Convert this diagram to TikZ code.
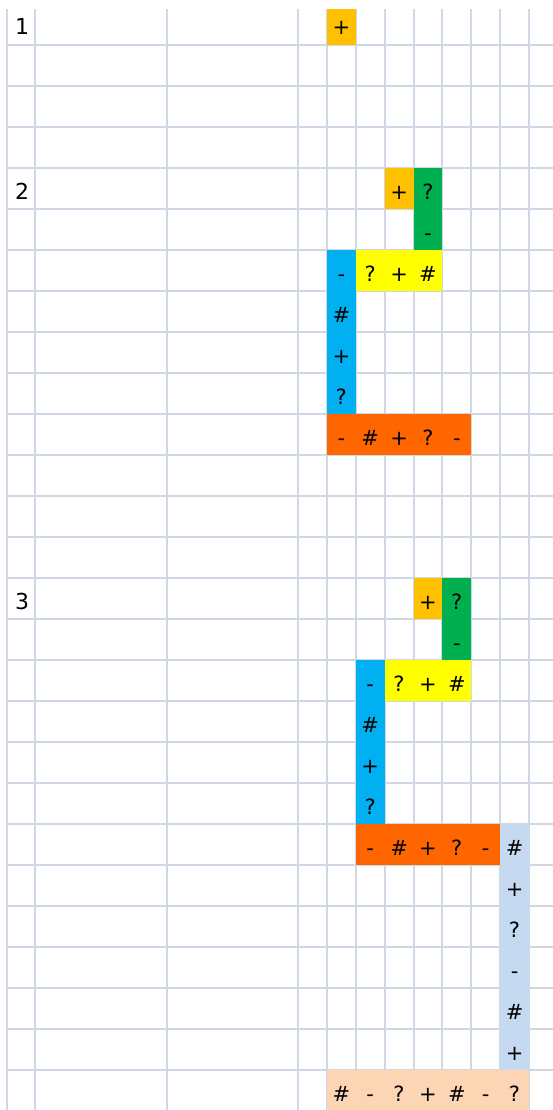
\documentclass[tikz,border=0pt]{standalone}
\usepackage{fontspec}
\setmainfont{DejaVu Sans}

\definecolor{gridgray}{HTML}{D0D7E5}
\definecolor{gold}{HTML}{FFC000}
\definecolor{leaf}{HTML}{00B050}
\definecolor{lemon}{HTML}{FFFF00}
\definecolor{sky}{HTML}{00B0F0}
\definecolor{tangerine}{HTML}{FF6600}
\definecolor{pale}{HTML}{C5D9F1}
\definecolor{peach}{HTML}{FCD5B4}

\tikzset{
  gridline/.style={gridgray, line width=2pt},
  sym/.style={anchor=base, inner sep=0pt, font=\fontsize{21}{25}\selectfont},
  steplabel/.style={anchor=base, inner sep=0pt, font=\fontsize{22}{26}\selectfont}
}

\def\cw{28.875}
\def\rh{41}
\newcommand{\cellblock}[5]{%
  \fill[#1] ({298+\cw*#2},{max(9,4+\rh*(#3-1))}) rectangle ({298+\cw*(#4+1)},{4+\rh*#5});}
\newcommand{\hrun}[4]{%
  \foreach \t [count=\i from 0] in {#4}
    \node[sym] (#1-\i) at ({298+\cw*(#2+\i+0.5)},{4+\rh*#3-10}) {\t};}
\newcommand{\vrun}[4]{%
  \foreach \t [count=\i from 0] in {#4}
    \node[sym] (#1-\i) at ({298+\cw*(#2+0.5)},{4+\rh*(#3+\i)-10}) {\t};}

\begin{document}
\begin{tikzpicture}[x=1pt,y=-1pt]
\useasboundingbox (0,0) rectangle (553,1110);

% sheet grid
\foreach \x in {7,35,167,298}
	\draw[gridline] (\x,9) -- (\x,1110);
\foreach \c in {1,...,8}
	\draw[gridline] ({298+\cw*\c},9) -- ({298+\cw*\c},1110);
\foreach \r in {1,...,26}
	\draw[gridline] (7,{4+\rh*\r}) -- (553,{4+\rh*\r});

% step 1
\node[steplabel] (lab1) at (22,{4+\rh*1-10}) {1};
\cellblock{gold}{1}{1}{1}{1}
\hrun{one}{1}{1}{+}

% step 2
\node[steplabel] (lab2) at (22,{4+\rh*5-10}) {2};
\cellblock{gold}{3}{5}{3}{5}
\cellblock{leaf}{4}{5}{4}{6}
\cellblock{lemon}{2}{7}{4}{7}
\cellblock{sky}{1}{7}{1}{10}
\cellblock{tangerine}{1}{11}{5}{11}
\hrun{twoa}{3}{5}{+}
\vrun{twob}{4}{5}{?,-}
\hrun{twoc}{2}{7}{?,+,\#}
\vrun{twod}{1}{7}{-,\#,+,?}
\hrun{twoe}{1}{11}{-,\#,+,?,-}

% step 3
\node[steplabel] (lab3) at (22,{4+\rh*15-10}) {3};
\cellblock{gold}{4}{15}{4}{15}
\cellblock{leaf}{5}{15}{5}{16}
\cellblock{lemon}{3}{17}{5}{17}
\cellblock{sky}{2}{17}{2}{20}
\cellblock{tangerine}{2}{21}{6}{21}
\cellblock{pale}{7}{21}{7}{26}
\cellblock{peach}{1}{27}{7}{27}
\hrun{threea}{4}{15}{+}
\vrun{threeb}{5}{15}{?,-}
\hrun{threec}{3}{17}{?,+,\#}
\vrun{threed}{2}{17}{-,\#,+,?}
\hrun{threee}{2}{21}{-,\#,+,?,-}
\vrun{threef}{7}{21}{\#,+,?,-,\#,+}
\hrun{threeg}{1}{27}{\#,-,?,+,\#,-,?}

\end{tikzpicture}
\end{document}
